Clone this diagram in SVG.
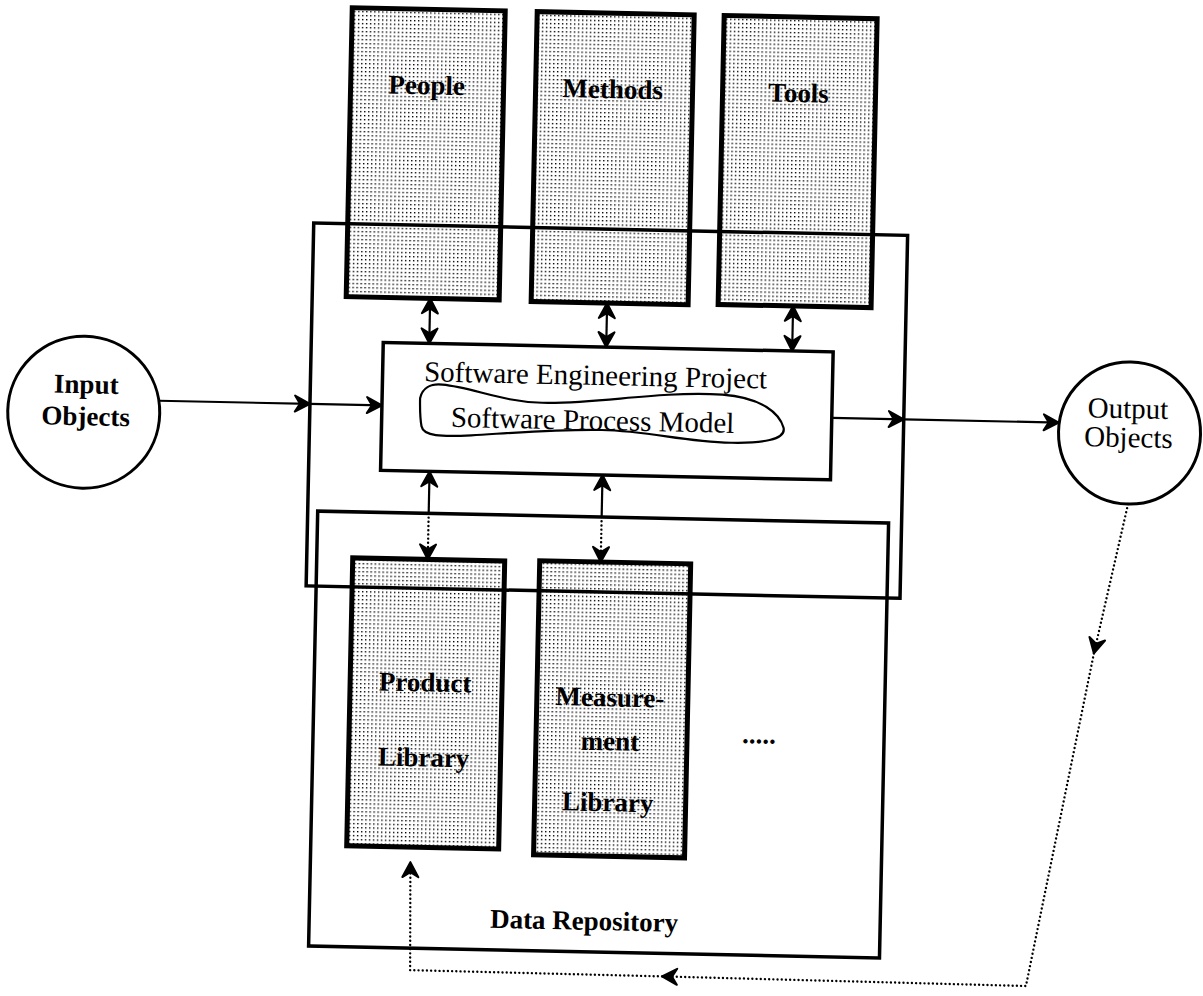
<svg xmlns="http://www.w3.org/2000/svg" width="1203" height="996" viewBox="0 0 1203 996">
  <style>
    .shade { fill: url(#dots); stroke: #000; stroke-width: 5; }
    .frame { fill: none; stroke: #000; stroke-width: 3.5; }
    .circ { fill: #fff; stroke: #000; stroke-width: 3; }
    .line { fill: none; stroke: #000; stroke-width: 2.2; }
    .dot { fill: none; stroke: #000; stroke-width: 2.4; stroke-dasharray: 0 4.2; stroke-linecap: round; }
    .lbl { font-family: "Liberation Serif", "DejaVu Serif", serif; font-size: 27px; font-weight: bold; fill: #000; text-anchor: middle; }
    .reg { font-family: "Liberation Serif", "DejaVu Serif", serif; font-size: 29px; fill: #000; text-anchor: middle; }
  </style>
  <defs>
    <pattern id="dots" width="4" height="4" patternUnits="userSpaceOnUse">
      <rect width="1.4" height="1.4" fill="#000"/>
    </pattern>
    <marker id="ah" viewBox="-20 -11 22 22" markerWidth="22" markerHeight="22" refX="0" refY="0" orient="auto-start-reverse" markerUnits="userSpaceOnUse">
      <path d="M0,0 L-15,-8 L-10,0 L-15,8 Z" fill="#000" stroke="#000" stroke-width="2" stroke-linejoin="round"/>
    </marker>
  </defs>
  <rect width="1203" height="996" fill="#fff"/>
  <g transform="rotate(1.2 600 500)">
    <g id="people"><rect class="shade" x="342" y="13" width="153" height="289"/><text class="lbl" x="418" y="98">People</text></g>
    <g id="methods"><rect class="shade" x="527" y="13" width="157" height="290"/><text class="lbl" x="604" y="98">Methods</text></g>
    <g id="tools"><rect class="shade" x="714" y="13" width="153" height="289"/><text class="lbl" x="790" y="98">Tools</text></g>
    <g id="product-library"><rect class="shade" x="354" y="563" width="152" height="288"/><text class="lbl" x="429" y="695">Product</text><text class="lbl" x="429" y="770">Library</text></g>
    <g id="measurement-library"><rect class="shade" x="541" y="562" width="151" height="294"/><text class="lbl" x="614" y="706">Measure-</text><text class="lbl" x="615" y="750">ment</text><text class="lbl" x="614" y="811">Library</text></g>
    <g id="software-engineering-project-frame"><rect class="frame" x="308" y="229" width="594" height="363" stroke-width="3"/></g>
    <g id="data-repository"><rect class="frame" x="318" y="517" width="571" height="435" stroke-width="4"/><text class="lbl" x="593" y="930">Data Repository</text><text class="lbl" x="764" y="740">.....</text></g>
    <g id="software-engineering-project"><rect class="frame" x="380" y="347" width="450" height="128" stroke-width="4"/><text class="reg" x="593" y="385">Software Engineering Project</text></g>
    <g id="software-process-model"><path class="line" stroke-width="3" d="M418,402 C420,392 428,387 440,388 C470,390 500,404 540,404 C600,404 650,390 720,392 C760,394 778,410 782,424 C785,436 760,440 730,440 C680,440 650,430 600,430 C560,430 520,434 470,438 C440,440 422,440 420,430 C418,420 418,410 418,402 Z"/><text class="reg" x="591" y="430">Software Process Model</text></g>
    <g id="input-objects"><circle class="circ" cx="82" cy="423" r="76"/><text class="lbl" x="84" y="404">Input</text><text class="lbl" x="84" y="436">Objects</text></g>
    <g id="output-objects"><circle class="circ" cx="1128" cy="422" r="71"/><text class="reg" x="1126" y="407">Output</text><text class="reg" x="1127" y="436">Objects</text></g>
    <g id="connectors">
      <path class="line" d="M157,410 L308,410" marker-end="url(#ah)"/>
      <path class="line" d="M308,410 L380,410" marker-end="url(#ah)"/>
      <path class="line" d="M830,413 L902,413" marker-end="url(#ah)"/>
      <path class="line" d="M902,413 L1057,413" marker-end="url(#ah)"/>
      <path class="line" d="M426,302 L426,347" marker-start="url(#ah)" marker-end="url(#ah)"/>
      <path class="line" d="M603,303 L603,347" marker-start="url(#ah)" marker-end="url(#ah)"/>
      <path class="line" d="M789,302 L789,347" marker-start="url(#ah)" marker-end="url(#ah)"/>
      <path class="line" d="M429,517 L429,475" marker-end="url(#ah)"/>
      <path class="dot" d="M429,517 L429,563" marker-end="url(#ah)"/>
      <path class="line" d="M602,517 L602,475" marker-end="url(#ah)"/>
      <path class="dot" d="M602,517 L602,562" marker-end="url(#ah)"/>
      <path class="dot" d="M1128,493 L1097,643" marker-end="url(#ah)"/>
      <path class="dot" d="M1097,643 L1036,977 L672,975" marker-end="url(#ah)"/>
      <path class="dot" d="M672,975 L420,974 L418,866" marker-end="url(#ah)"/>
    </g>
  </g>
</svg>
